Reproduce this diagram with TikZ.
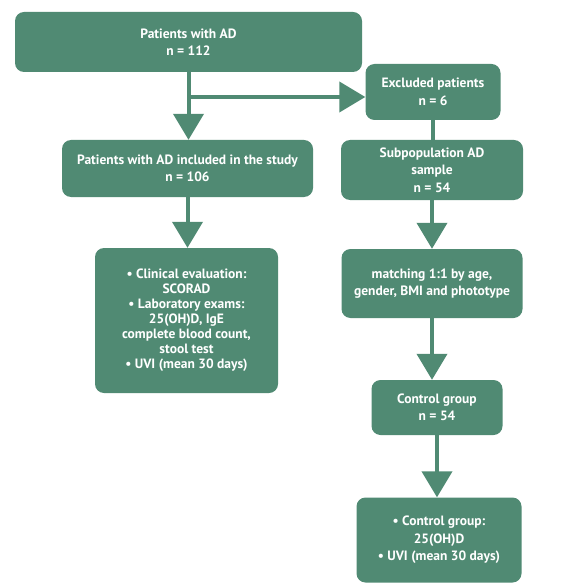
\documentclass[tikz,border=0pt]{standalone}
\usepackage{fontspec}
\setmainfont{PT Sans}
\usetikzlibrary{arrows.meta}
\definecolor{flowgreen}{RGB}{80,138,115}

\begin{document}
\begin{tikzpicture}[x=1pt,y=-1pt,
  box/.style={fill=flowgreen, rounded corners=9pt, text=white, align=center, inner sep=0pt,
    font=\bfseries\fontsize{13.5}{17.5}\selectfont},
  link/.style={draw=flowgreen, line width=4pt},
  flow/.style={link, -{Triangle[width=30pt,length=26pt]}}]
  \useasboundingbox (0,0) rectangle (563,585);

  \node[box, minimum width=347pt, minimum height=60pt] (patients) at (188.5,42) {Patients with AD\\n = 112};
  \node[box, minimum width=135pt, minimum height=56pt] (excluded) at (433,92) {Excluded patients\\n = 6};

  \node[box, minimum width=251pt, minimum height=57pt] (included) at (187.5,168.5) {Patients with AD included in the study\\n = 106};
  \node[box, minimum width=182pt, minimum height=60pt] (subpop) at (432,170) {Subpopulation AD\\sample\\n = 54};

  \node[box, minimum width=183pt, minimum height=145pt, font=\bfseries\fontsize{13.5}{15}\selectfont] (clinical) at (186.5,320.5)
    {• Clinical evaluation:\\SCORAD\\• Laboratory exams:\\25(OH)D, IgE\\complete blood count,\\stool test\\• UVI (mean 30 days)};
  \node[box, minimum width=181pt, minimum height=69pt] (matching) at (432,283.5) {matching 1:1 by age,\\gender, BMI and phototype};

  \node[box, minimum width=131pt, minimum height=55pt] (control) at (437,407.5) {Control group\\n = 54};
  \node[box, minimum width=165pt, minimum height=85pt] (final) at (439,540) {• Control group:\\25(OH)D\\• UVI (mean 30 days)};

  \coordinate (branch) at (188,97);

  \draw[flow] (patients.south) -- (patients.south |- included.north);
  \draw[flow] (branch) -- (branch -| excluded.west);
  \draw[link] (excluded.south) -- (excluded.south |- subpop.north);

  \draw[flow] (included.south) -- (included.south |- clinical.north);
  \draw[flow] (subpop.south) -- (subpop.south |- matching.north);
  \draw[flow] (matching.south) -- (matching.south |- control.north);
  \draw[flow] (control.south) -- (control.south |- final.north);

\end{tikzpicture}
\end{document}
